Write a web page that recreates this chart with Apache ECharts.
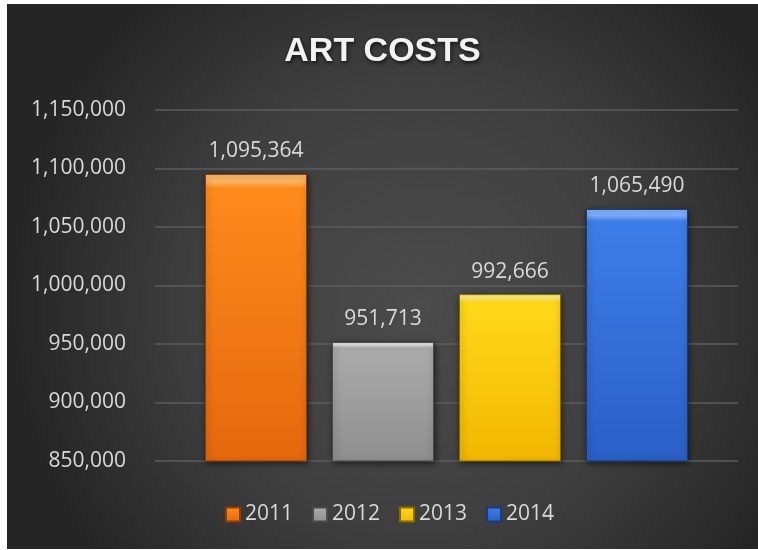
<!DOCTYPE html>
<html>
<head>
<meta charset="utf-8">
<script src="https://cdn.jsdelivr.net/npm/echarts@6/dist/echarts.min.js"></script>
<style>
html,body{margin:0;padding:0;background:#fff;width:758px;height:550px;overflow:hidden;}
#chart{position:absolute;left:7px;top:4px;width:751px;height:545px;}
</style>
</head>
<body>
<div id="chart"></div>
<script>
const titleText = 'ART COSTS';
const years = ['2011', '2012', '2013', '2014'];
const costs = [1095364, 951713, 992666, 1065490];
const yMin = 850000, yMax = 1150000, yStep = 50000;

// palette: [highlight, top, bottom, border]
const palette = [
  ['#ffb968', '#ff8a1c', '#e4680d', '#8a3e06'],
  ['#e2e2e2', '#ababab', '#8e8e8e', '#4a4a4a'],
  ['#fff07a', '#ffd81a', '#f2b700', '#8a6a00'],
  ['#7fb0ff', '#3d7de8', '#2a5fc6', '#1a3a7a']
];

const fmt = v => v.toLocaleString('en-US');
const font = '"Open Sans", sans-serif';

const series = years.map((y, i) => {
  const p = palette[i];
  return {
    name: y,
    type: 'bar',
    data: [costs[i]],
    barWidth: 102,
    barGap: '24.5%',
    itemStyle: {
      color: {
        type: 'linear', x: 0, y: 0, x2: 0, y2: 1,
        colorStops: [
          {offset: 0, color: p[0]},
          {offset: 0.025, color: p[0]},
          {offset: 0.05, color: p[1]},
          {offset: 1, color: p[2]}
        ]
      },
      borderColor: p[3],
      borderWidth: 1,
      shadowColor: 'rgba(0,0,0,0.55)',
      shadowBlur: 6,
      shadowOffsetX: 1,
      shadowOffsetY: 2
    },
    label: {
      show: true,
      position: 'top',
      distance: 12,
      color: '#d9d9d9',
      fontFamily: font,
      fontSize: 21,
      formatter: p2 => fmt(p2.value)
    }
  };
});

const chart = echarts.init(document.getElementById('chart'), null, {renderer: 'canvas'});
chart.setOption({
  animation: false,
  backgroundColor: {
    type: 'radial', x: 0.55, y: 0.55, r: 0.75,
    colorStops: [
      {offset: 0, color: '#4b4b4b'},
      {offset: 0.55, color: '#3f3f3f'},
      {offset: 1, color: '#252525'}
    ]
  },
  title: {
    text: titleText,
    left: 'center',
    top: 26,
    textStyle: {
      color: '#f2f2f2',
      fontFamily: '"Liberation Sans", Arial, sans-serif',
      fontWeight: 'bold',
      fontSize: 34,
      textShadowColor: 'rgba(0,0,0,0.7)',
      textShadowBlur: 4,
      textShadowOffsetX: 1,
      textShadowOffsetY: 2
    }
  },
  legend: {
    data: years,
    left: 213,
    top: 495,
    icon: 'rect',
    itemWidth: 14,
    itemHeight: 14,
    itemGap: 19,
    textStyle: {color: '#d9d9d9', fontFamily: font, fontSize: 21}
  },
  grid: {left: 148, right: 20, top: 106, bottom: 88, containLabel: false},
  xAxis: {
    type: 'category',
    data: [''],
    axisLine: {show: false},
    axisTick: {show: false},
    axisLabel: {show: false}
  },
  yAxis: {
    type: 'value',
    min: yMin,
    max: yMax,
    interval: yStep,
    axisLine: {show: false},
    axisTick: {show: false},
    axisLabel: {color: '#d9d9d9', fontFamily: font, fontSize: 21, margin: 29, formatter: v => fmt(v)},
    splitLine: {lineStyle: {color: '#5c5c5c', width: 1.5}}
  },
  series: series
});
</script>
</body>
</html>
